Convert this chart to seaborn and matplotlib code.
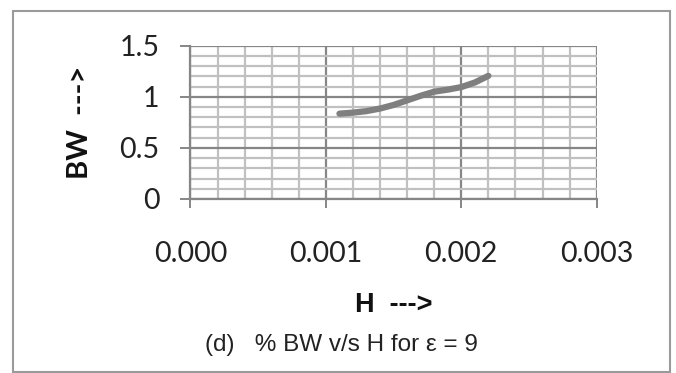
import numpy as np
import pandas as pd
import seaborn as sns
import matplotlib.pyplot as plt
from matplotlib.patches import Rectangle
from matplotlib.ticker import MultipleLocator, FormatStrFormatter

# values
h_values = [0.0011, 0.0012, 0.0013, 0.0014, 0.0015, 0.0016, 0.0017, 0.0018, 0.0019, 0.0020, 0.0021, 0.0022]
bw_values = [0.835, 0.845, 0.86, 0.885, 0.92, 0.965, 1.01, 1.05, 1.07, 1.095, 1.14, 1.205]
x_ticks = [0.000, 0.001, 0.002, 0.003]
y_ticks = [0, 0.5, 1, 1.5]

df = pd.DataFrame({'H': h_values, 'BW': bw_values})

sns.set_theme(style='white')
plt.rcParams['font.family'] = ['Lato', 'DejaVu Sans']

fig = plt.figure(figsize=(6.76, 3.73), dpi=100)
ax = fig.add_axes([0.2818, 0.4665, 0.6009, 0.411])

major_c = '#868686'
minor_c = '#c0c0c0'

sns.lineplot(data=df, x='H', y='BW', ax=ax, color='#7f7f7f', linewidth=4.5,
             solid_capstyle='round', zorder=5)

ax.set_xlim(0, 0.003)
ax.set_ylim(0, 1.5)
ax.set_xticks(x_ticks)
ax.set_yticks(y_ticks)
ax.xaxis.set_minor_locator(MultipleLocator(0.0002))
ax.yaxis.set_minor_locator(MultipleLocator(0.1))
ax.xaxis.set_major_formatter(FormatStrFormatter('%.3f'))
ax.set_yticklabels(['0', '0.5', '1', '1.5'])

ax.grid(which='minor', color=minor_c, linewidth=1.6)
ax.grid(which='major', color=major_c, linewidth=1.6)
ax.set_axisbelow(True)

for s in ['top', 'right']:
    ax.spines[s].set_visible(False)
for s in ['left', 'bottom']:
    ax.spines[s].set_color(major_c)
    ax.spines[s].set_linewidth(1.6)

ax.tick_params(axis='x', which='major', direction='out', length=6.5, width=1.4,
               color=major_c, pad=24, labelsize=20.5, labelcolor='#222222', bottom=True)
ax.tick_params(axis='y', which='major', direction='out', length=7.2, width=1.4,
               color=major_c, pad=15, labelsize=20.5, labelcolor='#222222', left=True)
ax.tick_params(which='minor', length=0)

ax.set_xlabel('H  --->', fontsize=19.5, fontweight='bold', family=['Liberation Sans'],
              labelpad=18, color='#111111')
ax.set_ylabel('BW  --->', fontsize=21, fontweight='bold', labelpad=19, color='#111111')

fig.text(0.505, (373 - 345) / 373, '(d)   % BW v/s H for ε = 9', ha='center', va='center',
         fontsize=17.5, family=['Liberation Sans Narrow', 'Liberation Sans'], color='#222222')

fig.patches.append(Rectangle((12.5 / 676, 1.5 / 373), 657.5 / 676, 361 / 373,
                             transform=fig.transFigure, fill=False,
                             edgecolor='#9a9a9a', linewidth=1.5))

fig.savefig('out.png', dpi=100)
